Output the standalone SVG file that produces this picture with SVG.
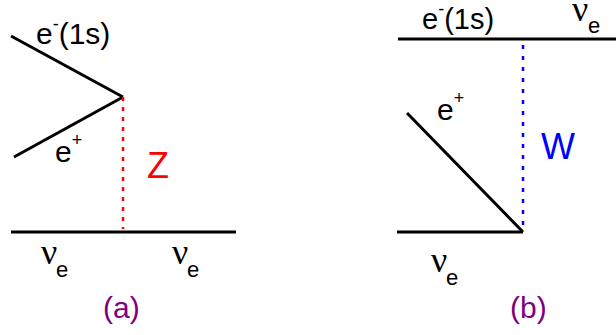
<svg xmlns="http://www.w3.org/2000/svg" width="616" height="335" viewBox="0 0 616 335">
<style>
.ln{stroke:#000;stroke-width:3;fill:none;stroke-linecap:butt}
.t{font-family:"Liberation Sans",Arial,sans-serif;fill:#000}
.nu{font-family:"Liberation Serif","Times New Roman",serif;font-size:36px;fill:#000}
.sub{font-family:"Liberation Sans",Arial,sans-serif;font-size:22px}
.lab{font-family:"Liberation Sans",Arial,sans-serif;font-size:30px;fill:#800080}
</style>
<rect width="616" height="335" fill="#fff"/>
<g id="connectors">
<line class="ln" x1="11" y1="36" x2="123" y2="97"/>
<line class="ln" x1="14" y1="157" x2="123" y2="97"/>
<line x1="123" y1="97" x2="123" y2="229" stroke="#ff0000" stroke-width="2.5" stroke-dasharray="4 6"/>
<line class="ln" x1="11" y1="232" x2="236" y2="232"/>
<line class="ln" x1="398" y1="39" x2="616" y2="39"/>
<line x1="523" y1="45" x2="523" y2="232" stroke="#0000ff" stroke-width="2.5" stroke-dasharray="4 7"/>
<line class="ln" x1="407" y1="113" x2="523" y2="232"/>
<line class="ln" x1="397" y1="232" x2="523" y2="232"/>
</g>
<g id="panel-a">
<text class="t" x="36" y="44" font-size="30">e<tspan font-size="18" dy="-14">-</tspan><tspan dy="14">(1s)</tspan></text>
<text class="t" x="55" y="162" font-size="30">e<tspan font-size="18" dy="-16">+</tspan></text>
<text x="147" y="178" font-family="Liberation Sans,Arial,sans-serif" font-size="36" fill="#ff0000">Z</text>
<text class="nu" x="41" y="264">ν<tspan class="sub" x="56" y="277">e</tspan></text>
<text class="nu" x="172" y="264">ν<tspan class="sub" x="187" y="277">e</tspan></text>
<text class="lab" x="103" y="318">(a)</text>
</g>
<g id="panel-b">
<text class="t" x="422" y="29" font-size="29">e<tspan font-size="18" dy="-14">-</tspan><tspan dy="14">(1s)</tspan></text>
<text class="t" x="437" y="120" font-size="30">e<tspan font-size="18" dy="-16">+</tspan></text>
<text x="541" y="159" font-family="Liberation Sans,Arial,sans-serif" font-size="36" fill="#0000ff">W</text>
<text class="nu" x="572" y="21" font-size="33">ν<tspan class="sub" x="588" y="33">e</tspan></text>
<text class="nu" x="431" y="272">ν<tspan class="sub" x="446" y="285">e</tspan></text>
<text class="lab" x="510" y="318">(b)</text>
</g>
</svg>
